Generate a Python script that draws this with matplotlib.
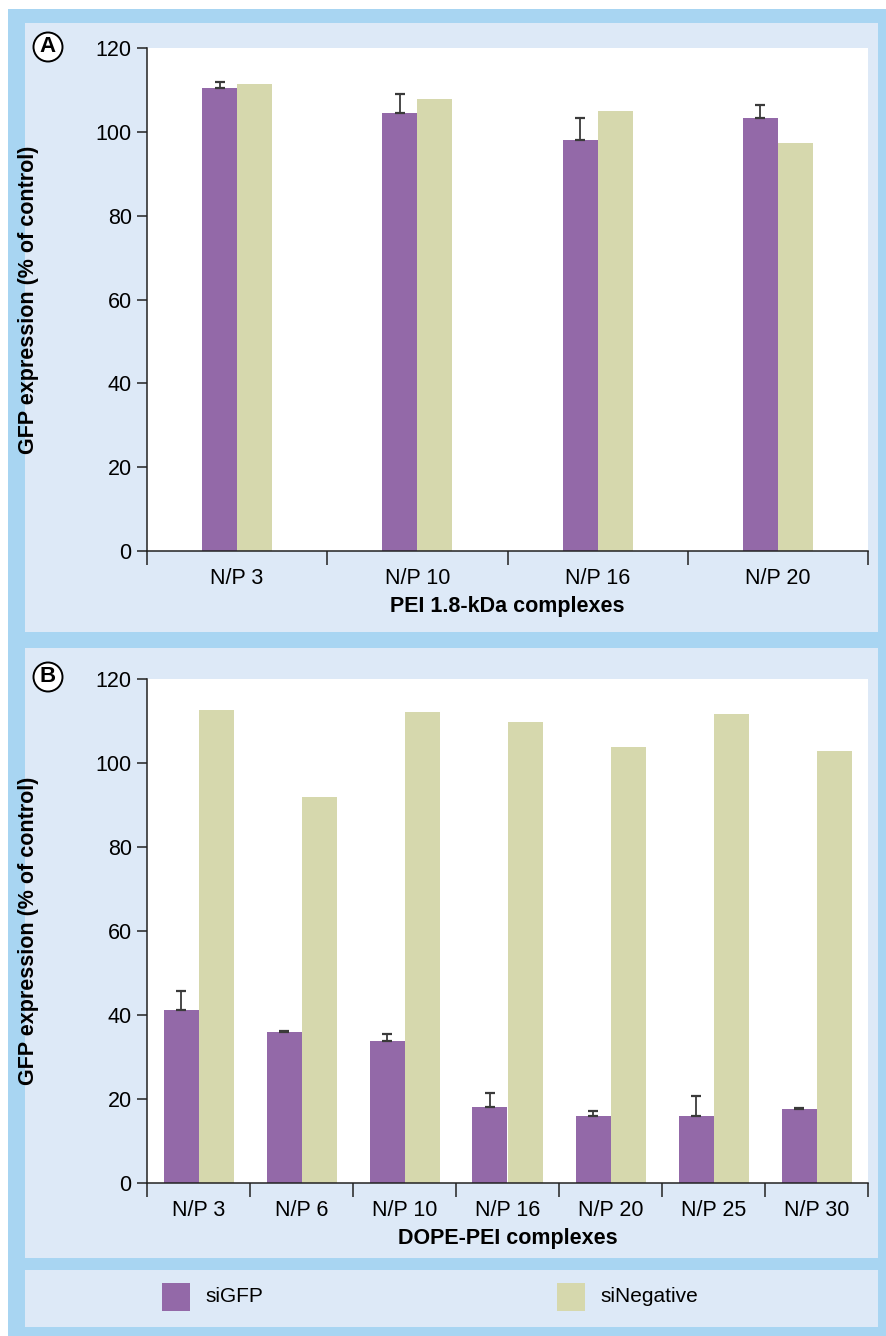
import numpy as np
import matplotlib.pyplot as plt
from matplotlib.patches import Rectangle

plt.rcParams['font.family'] = ['Liberation Sans', 'DejaVu Sans']

# Panel A: PEI 1.8-kDa complexes
pei_labels = ['N/P 3', 'N/P 10', 'N/P 16', 'N/P 20']
pei_sigfp = [110.5, 104.4, 98.1, 103.3]
pei_sigfp_err = [1.4, 4.7, 5.1, 3.0]
pei_sineg = [111.5, 107.9, 105.0, 97.3]

# Panel B: DOPE-PEI complexes
dope_labels = ['N/P 3', 'N/P 6', 'N/P 10', 'N/P 16', 'N/P 20', 'N/P 25', 'N/P 30']
dope_sigfp = [41.2, 36.0, 33.7, 18.2, 15.9, 15.9, 17.6]
dope_sigfp_err = [4.4, 0.2, 1.8, 3.2, 1.3, 4.8, 0.3]
dope_sineg = [112.6, 92.0, 112.1, 109.8, 103.8, 111.7, 102.9]

series_names = ['siGFP', 'siNegative']
PURPLE = '#9369a8'
BEIGE = '#d6d8ad'
BAND = '#a8d5f2'
PANEL = '#dde9f7'

W, H = 886, 1336
fig = plt.figure(figsize=(W / 100, H / 100), dpi=100)


def px_box(x0, y0, x1, y1):
    """Convert a top-left pixel box to figure fraction (left, bottom, w, h)."""
    return x0 / W, 1 - y1 / H, (x1 - x0) / W, (y1 - y0) / H


def add_rect(x0, y0, x1, y1, color, z=-2):
    l, b, w, h = px_box(x0, y0, x1, y1)
    fig.patches.append(Rectangle((l, b), w, h, transform=fig.transFigure,
                                 facecolor=color, edgecolor='none', zorder=z))


# background frame and panels
add_rect(8, 9, 886, 1336, BAND)
add_rect(25, 23, 878, 632, PANEL)
add_rect(25, 648, 878, 1258, PANEL)
add_rect(25, 1270, 878, 1327, PANEL)


def draw_panel(box, labels, sigfp, err, sineg, xlabel, bar_frac):
    ax = fig.add_axes(px_box(*box))
    n = len(labels)
    centers = np.arange(n) + 0.5
    w = bar_frac
    ax.bar(centers - w / 2, sigfp, width=w, color=PURPLE, zorder=2)
    ax.bar(centers + w / 2, sineg, width=w, color=BEIGE, zorder=2)
    ax.errorbar(centers - w / 2, sigfp, yerr=[np.zeros(n), err], fmt='none',
                ecolor='#3a3a3a', elinewidth=1.3, capsize=3.5, capthick=1.6,
                zorder=3)

    ax.set_xlim(0, n)
    ax.set_ylim(0, 120)
    ax.set_yticks(range(0, 121, 20))
    ax.set_xticks(np.arange(n + 1))
    ax.set_xticklabels([])
    ax.set_xticks(centers, minor=True)
    ax.set_xticklabels(labels, minor=True)
    ax.tick_params(axis='x', which='major', length=10, width=1.1,
                   direction='out', color='#222')
    ax.tick_params(axis='x', which='minor', length=0, pad=12, labelsize=15.5)
    ax.tick_params(axis='y', length=7, width=1.1, direction='out',
                   color='#222', pad=4, labelsize=15.5)

    for side in ('top', 'right'):
        ax.spines[side].set_visible(False)
    for side in ('left', 'bottom'):
        ax.spines[side].set_linewidth(1.1)
        ax.spines[side].set_color('#222')

    ax.set_ylabel('GFP expression (% of control)', fontsize=15.5,
                  fontweight='bold', va='center')
    ax.yaxis.set_label_coords(-0.165, 0.5)
    ax.set_xlabel(xlabel, fontsize=15.5, fontweight='bold', va='center')
    ax.xaxis.set_label_coords(0.5, -0.11)
    return ax


draw_panel((147, 48, 868, 551), pei_labels, pei_sigfp, pei_sigfp_err,
           pei_sineg, 'PEI 1.8-kDa complexes', 35 / 180)
draw_panel((147, 679, 868, 1183), dope_labels, dope_sigfp, dope_sigfp_err,
           dope_sineg, 'DOPE-PEI complexes', 35 / 103)

# circled panel letters
for letter, (x, y) in zip(['A', 'B'], [(48, 47), (48, 677)]):
    fig.text(x / W, 1 - y / H, letter, ha='center', va='center',
             fontsize=16, fontweight='bold',
             bbox=dict(boxstyle='circle,pad=0.18', facecolor='white',
                       edgecolor='black', linewidth=1.4))

# legend strip
for name, color, x in zip(series_names, [PURPLE, BEIGE], [162, 557]):
    add_rect(x, 1283, x + 28, 1311, color, z=1)
    fig.text((x + 43) / W, 1 - 1297 / H, name, ha='left', va='center',
             fontsize=15)

fig.savefig('out.png', dpi=100)
